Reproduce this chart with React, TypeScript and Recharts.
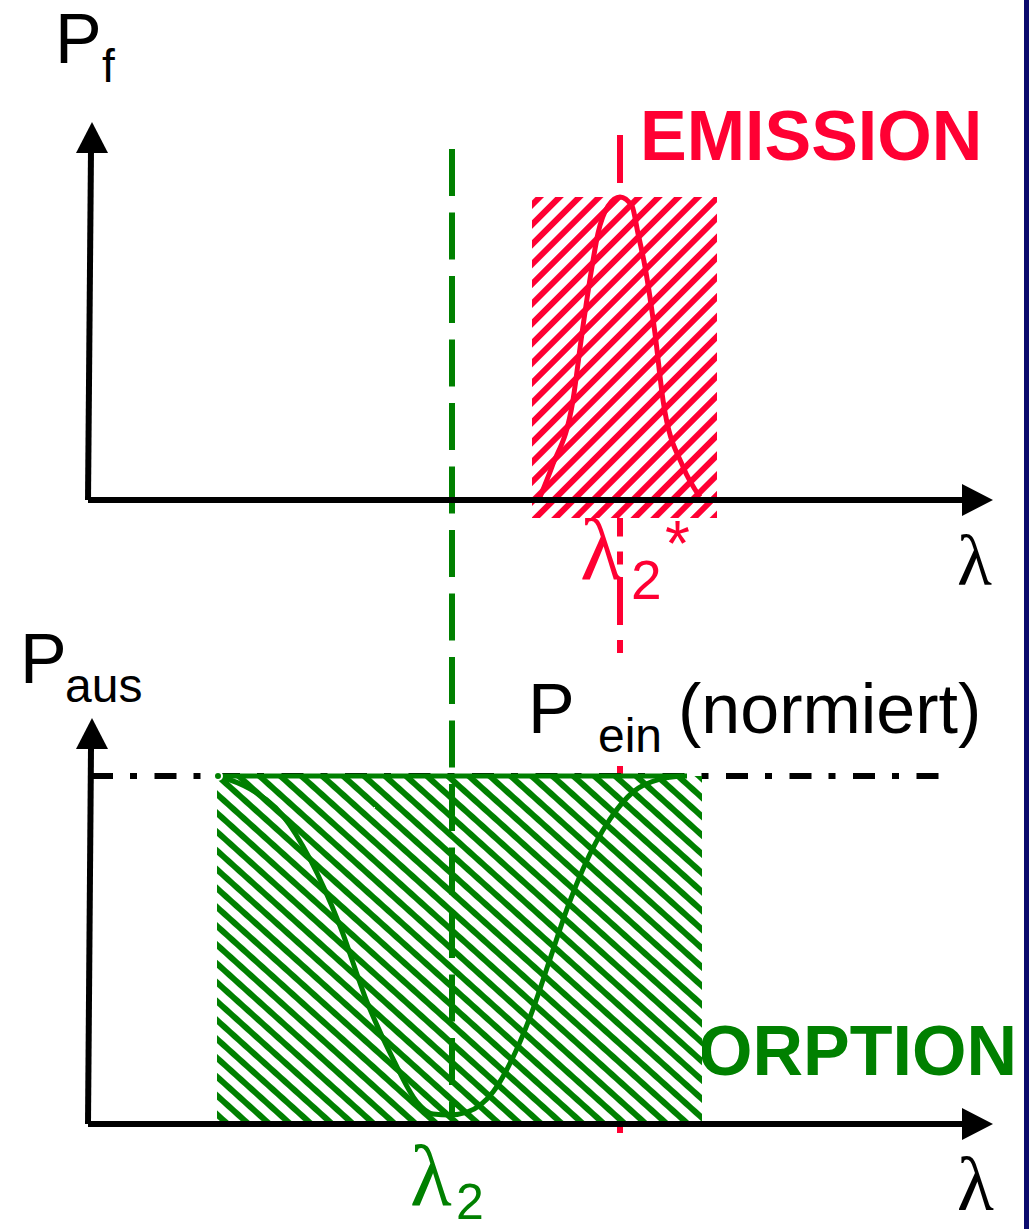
import React from "react";
import {
  ComposedChart,
  Line,
  XAxis,
  YAxis,
  ReferenceLine,
  ReferenceArea,
  ReferenceDot,
} from "recharts";

const W = 1029;
const H = 1229;

const RED = "#ff0033";
const GREEN = "#008000";
const SANS = "'Liberation Sans', Arial, sans-serif";
const SERIF = "'Liberation Serif', 'Times New Roman', serif";

// λ axis (arbitrary units along the wavelength axis)
const lambdaRange = [0, 1029];
const lambda2 = 452;
const lambda2Star = 620;
const emissionBand = [532, 717];
const absorptionBand = [217, 702];

// emission spectrum P_f(λ), normalised
const emissionX = [540, 552, 573, 582, 592, 598, 608, 620, 632, 638, 645, 655, 663, 683, 700];
const emissionP = [0.01, 0.11, 0.33, 0.55, 0.77, 0.88, 0.97, 1, 0.97, 0.88, 0.77, 0.55, 0.33, 0.11, 0.01];

// transmitted power P_aus(λ) / P_ein
const absorptionX = [218, 250, 283, 310, 340, 367, 393, 417, 433, 450, 467, 493, 520, 533, 550, 567, 583, 610, 633, 660, 683];
const absorptionP = [1, 0.963, 0.885, 0.761, 0.569, 0.351, 0.187, 0.063, 0.029, 0.026, 0.034, 0.092, 0.236, 0.33, 0.474, 0.618, 0.733, 0.876, 0.954, 0.991, 1];

const emissionData = emissionX.map((x, i) => ({ x, p: emissionP[i] }));
const absorptionData = absorptionX.map((x, i) => ({ x, p: absorptionP[i] }));

// panel scaling: baseline pixel and pixels per unit
const TOP_BASE = 500;
const TOP_UNIT = 303;
const BOT_BASE = 1124;
const BOT_UNIT = 348;
const topDomain = [-(H - TOP_BASE) / TOP_UNIT, TOP_BASE / TOP_UNIT];
const botDomain = [-(H - BOT_BASE) / BOT_UNIT, BOT_BASE / BOT_UNIT];
const topV = (px: number) => (TOP_BASE - px) / TOP_UNIT;
const botV = (px: number) => (BOT_BASE - px) / BOT_UNIT;

const HATCH = 14;
const STRIPE = 6;

const UpArrow = (props: any) => {
  const { cx, cy } = props;
  return <polygon points={`${cx},${cy} ${cx - 16},${cy + 31} ${cx + 16},${cy + 31}`} fill="#000" />;
};

const RightArrow = (props: any) => {
  const { cx, cy } = props;
  return <polygon points={`${cx},${cy} ${cx - 31},${cy - 16} ${cx - 31},${cy + 16}`} fill="#000" />;
};

const layer: React.CSSProperties = { position: "absolute", left: 0, top: 0 };

function Axes() {
  return (
    <>
      <XAxis type="number" dataKey="x" domain={lambdaRange} hide allowDataOverflow />
      <YAxis yAxisId="top" type="number" domain={topDomain} hide allowDataOverflow />
      <YAxis yAxisId="bot" type="number" domain={botDomain} hide allowDataOverflow />
    </>
  );
}

function BackLines() {
  return (
    <ComposedChart width={W} height={H} margin={{ top: 0, right: 0, bottom: 0, left: 0 }}>
      {Axes()}
      <ReferenceLine
        yAxisId="bot"
        segment={[
          { x: lambda2Star, y: botV(135) },
          { x: lambda2Star, y: botV(1133) },
        ]}
        stroke={RED}
        strokeWidth={6}
        strokeDasharray="48 15 13 12.4"
      />
      <ReferenceLine
        yAxisId="bot"
        segment={[
          { x: 91, y: 1 },
          { x: 940, y: 1 },
        ]}
        stroke="#000"
        strokeWidth={6}
        strokeDasharray="22 17 7 17.5"
      />
    </ComposedChart>
  );
}

function Labels() {
  return (
    <svg width={W} height={H} style={layer}>
      <g fontFamily={SANS} fill="#000">
        <text x={55} y={63} fontSize={70}>P</text>
        <text x={102} y={82} fontSize={46}>f</text>
        <text x={20} y={683} fontSize={70}>P</text>
        <text x={65} y={702} fontSize={48}>aus</text>
      </g>
      <text x={640} y={160} fontSize={70} fontWeight="bold" fontFamily={SANS} fill={RED}>EMISSION</text>
      <text x={1017} y={1075} fontSize={70} fontWeight="bold" fontFamily={SANS} fill={GREEN} textAnchor="end">ABSORPTION</text>
      <text x={957} y={585} fontSize={72} fontFamily={SERIF}>λ</text>
      <text x={957} y={1210} fontSize={76} fontFamily={SERIF}>λ</text>
      <g fill={RED}>
        <text x={580} y={580} fontSize={88} fontFamily={SERIF}>λ</text>
        <text x={631} y={599} fontSize={55} fontFamily={SANS}>2</text>
        <text x={665} y={566} fontSize={64} fontFamily={SANS}>*</text>
      </g>
      <g fill={GREEN}>
        <text x={410} y={1205} fontSize={86} fontFamily={SERIF}>λ</text>
        <text x={456} y={1219} fontSize={50} fontFamily={SANS}>2</text>
      </g>
      <rect x={520} y={660} width={470} height={106} fill="#fff" />
      <g fontFamily={SANS} fill="#000">
        <text x={528} y={733} fontSize={70}>P</text>
        <text x={598} y={752} fontSize={48}>ein</text>
        <text x={678} y={733} fontSize={70}>(normiert)</text>
      </g>
    </svg>
  );
}

function FrontChart() {
  return (
    <ComposedChart width={W} height={H} margin={{ top: 0, right: 0, bottom: 0, left: 0 }}>
      <defs>
        <pattern id="hatchRed" patternUnits="userSpaceOnUse" width={HATCH} height={HATCH} patternTransform="rotate(45)">
          <rect width={HATCH} height={HATCH} fill="#fff" />
          <rect width={STRIPE} height={HATCH} fill={RED} />
        </pattern>
        <pattern id="hatchGreen" patternUnits="userSpaceOnUse" width={HATCH} height={HATCH} patternTransform="rotate(-48)">
          <rect width={HATCH} height={HATCH} fill="#fff" />
          <rect width={STRIPE} height={HATCH} fill={GREEN} />
        </pattern>
      </defs>
      {Axes()}
      <ReferenceArea
        yAxisId="top"
        x1={emissionBand[0]}
        x2={emissionBand[1]}
        y1={topV(518)}
        y2={1}
        fill="url(#hatchRed)"
        fillOpacity={1}
        stroke="none"
        ifOverflow="visible"
      />
      <ReferenceArea
        yAxisId="bot"
        x1={absorptionBand[0]}
        x2={absorptionBand[1]}
        y1={botV(1122)}
        y2={1}
        fill="url(#hatchGreen)"
        fillOpacity={1}
        stroke="none"
        ifOverflow="visible"
      />
      <ReferenceLine
        yAxisId="bot"
        segment={[
          { x: 217, y: 1 },
          { x: 687, y: 1 },
        ]}
        stroke={GREEN}
        strokeWidth={5}
      />
      <Line
        data={emissionData}
        yAxisId="top"
        dataKey="p"
        type="monotone"
        stroke={RED}
        strokeWidth={5}
        dot={false}
        isAnimationActive={false}
      />
      <Line
        data={absorptionData}
        yAxisId="bot"
        dataKey="p"
        type="monotone"
        stroke={GREEN}
        strokeWidth={5}
        dot={false}
        isAnimationActive={false}
      />
      <ReferenceLine
        yAxisId="bot"
        segment={[
          { x: lambda2, y: botV(149) },
          { x: lambda2, y: botV(1117) },
        ]}
        stroke={GREEN}
        strokeWidth={6}
        strokeDasharray="47 16.5"
      />
      {/* axes with arrow heads */}
      <ReferenceLine yAxisId="top" segment={[{ x: 88, y: 0 }, { x: 91, y: topV(150) }]} stroke="#000" strokeWidth={6} />
      <ReferenceLine yAxisId="top" segment={[{ x: 88, y: 0 }, { x: 965, y: 0 }]} stroke="#000" strokeWidth={6} />
      <ReferenceLine yAxisId="bot" segment={[{ x: 88, y: 0 }, { x: 91, y: botV(748) }]} stroke="#000" strokeWidth={6} />
      <ReferenceLine yAxisId="bot" segment={[{ x: 88, y: 0 }, { x: 965, y: 0 }]} stroke="#000" strokeWidth={6} />
      <ReferenceDot yAxisId="top" x={92} y={topV(122)} shape={UpArrow} />
      <ReferenceDot yAxisId="bot" x={92} y={botV(718)} shape={UpArrow} />
      <ReferenceDot yAxisId="top" x={993} y={0} shape={RightArrow} />
      <ReferenceDot yAxisId="bot" x={993} y={0} shape={RightArrow} />
    </ComposedChart>
  );
}

export default function App() {
  return (
    <div style={{ position: "absolute", left: 0, top: 0, width: W, height: H, background: "#fff", overflow: "hidden" }}>
      <div style={layer}>
        <BackLines />
      </div>
      <Labels />
      <div style={layer}>
        <FrontChart />
      </div>
      <div style={{ position: "absolute", left: 1024, top: 0, width: 5, height: H, background: "#0b0b6e" }} />
    </div>
  );
}
